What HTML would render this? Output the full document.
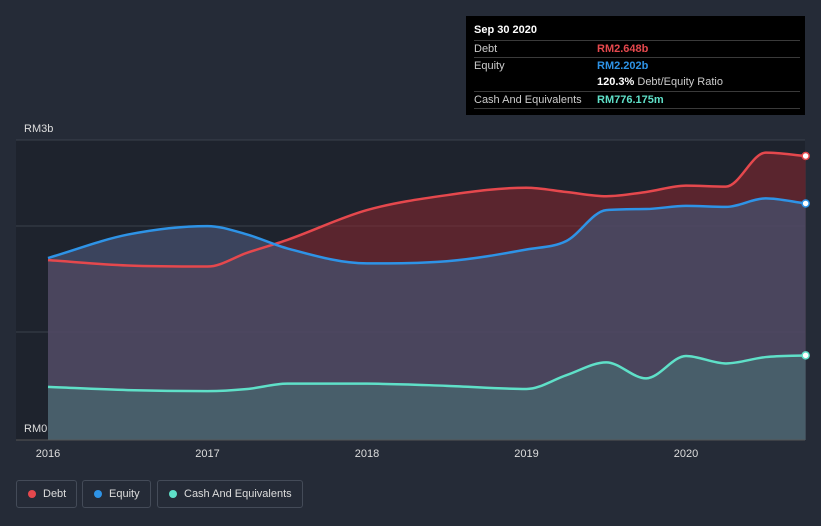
<!DOCTYPE html>
<html><head><meta charset="utf-8"><style>
body{margin:0;width:821px;height:526px;background:#252b37;font-family:"Liberation Sans",sans-serif;overflow:hidden;position:relative}
.tt{position:absolute;left:466px;top:16px;width:339px;height:99px;background:#000;color:#ccc;font-size:11px}
.row{position:absolute;left:8px;right:5px;height:17px;line-height:17px;border-top:1px solid #3a3a3a}
.row span.v{position:absolute;left:123px;font-weight:bold}
.legend{position:absolute;top:480px;height:26px;border:1px solid #444b58;border-radius:3px;color:#ddd;font-size:11px;line-height:26px;padding:0 10px 0 26px}
.legend i{position:absolute;left:11px;top:9px;width:8px;height:8px;border-radius:50%}
</style></head><body>
<svg id="chart" width="821" height="526" style="position:absolute;left:0;top:0"></svg>
<div class="tt">
<div style="position:absolute;left:8px;top:8px;color:#fff;font-weight:bold">Sep 30 2020</div>
<div class="row" style="top:24px"><span>Debt</span><span class="v" style="color:#e5484d">RM2.648b</span></div>
<div class="row" style="top:41px"><span>Equity</span><span class="v" style="color:#2e93e6">RM2.202b</span></div>
<div style="position:absolute;left:131px;top:58px;line-height:17px"><b style="color:#fff">120.3%</b> Debt/Equity Ratio</div>
<div class="row" style="top:75px"><span>Cash And Equivalents</span><span class="v" style="color:#5fe0c8">RM776.175m</span></div>
<div class="row" style="top:92px;height:0"></div>
</div>
<div class="legend" style="left:16px"><i style="background:#e5484d"></i>Debt</div>
<div class="legend" style="left:82px"><i style="background:#2e93e6"></i>Equity</div>
<div class="legend" style="left:157px"><i style="background:#5fe0c8"></i>Cash And Equivalents</div>
<script>
const dates=[2016,2016.5,2017,2017.25,2017.5,2018,2018.5,2019,2019.25,2019.5,2019.75,2020,2020.25,2020.5,2020.75];
const debt=[1.67,1.62,1.61,1.74,1.86,2.14,2.28,2.35,2.31,2.27,2.31,2.37,2.36,2.68,2.648];
const equity=[1.69,1.91,1.99,1.91,1.78,1.64,1.66,1.77,1.85,2.14,2.15,2.18,2.17,2.25,2.202];
const cash=[0.48,0.45,0.44,0.46,0.51,0.51,0.49,0.46,0.59,0.71,0.56,0.77,0.70,0.76,0.776];
const yearTicks=[2016,2017,2018,2019,2020];
const NS="http://www.w3.org/2000/svg",svg=document.getElementById('chart');
const X=d=>48+(d-2016)*159.5, Y=v=>438-v*106.5;
function el(t,a){const e=document.createElementNS(NS,t);for(const k in a)e.setAttribute(k,a[k]);svg.appendChild(e);return e;}
const bg=el('rect',{x:16,y:140,width:789,height:300,fill:'#1e232d'});


[140,226,332].forEach(y=>{const g=el('line',{x1:16,x2:805,y1:y,y2:y,stroke:'#3a404c'});

});
function path(vals){const p=vals.map((v,i)=>[X(dates[i]),Y(v)]);const n=p.length;
const s=[],m=[];for(let i=0;i<n-1;i++)s.push((p[i+1][1]-p[i][1])/(p[i+1][0]-p[i][0]));
m[0]=s[0];m[n-1]=s[n-2];for(let i=1;i<n-1;i++)m[i]=(s[i-1]*s[i]<=0)?0:(s[i-1]+s[i])/2;
for(let i=0;i<n-1;i++){if(s[i]===0){m[i]=m[i+1]=0;continue;}const a=m[i]/s[i],b=m[i+1]/s[i],h=a*a+b*b;if(h>9){const t=3/Math.sqrt(h);m[i]=t*a*s[i];m[i+1]=t*b*s[i];}}
let d='M'+p[0];for(let i=0;i<n-1;i++){const dx=(p[i+1][0]-p[i][0])/3;
d+=` C${p[i][0]+dx},${p[i][1]+m[i]*dx} ${p[i+1][0]-dx},${p[i+1][1]-m[i+1]*dx} ${p[i+1][0]},${p[i+1][1]}`;}return d;}
function area(vals){return path(vals)+` L${X(dates[dates.length-1])},440 L${X(dates[0])},440 Z`;}
function fill(vals,f,name){const a=el('path',{d:area(vals),fill:f});

}
function line(vals,stroke,name){
const l=el('path',{d:path(vals),fill:'none',stroke:stroke,'stroke-width':2.5});


const c=el('circle',{cx:X(dates[dates.length-1]),cy:Y(vals[vals.length-1]),r:3.5,fill:'#fff',stroke:stroke,'stroke-width':1.5});

}
fill(debt,'rgba(140,40,48,0.55)','debt');
fill(equity,'rgba(70,80,110,0.75)','equity');
fill(cash,'rgba(70,120,120,0.5)','cash');
line(debt,'#e5484d','debt');
line(equity,'#2e93e6','equity');
line(cash,'#5fe0c8','cash');
const ax=el('line',{x1:16,x2:805,y1:440,y2:440,stroke:'#555'});


yearTicks.forEach(t=>{const tx=el('text',{x:X(t),y:457,fill:'#ddd','font-size':11,'text-anchor':'middle'});tx.textContent=t;

});
[['RM3b',132],['RM0',432]].forEach(([s,y])=>{const tx=el('text',{x:24,y:y,fill:'#ddd','font-size':11});tx.textContent=s;

});
</script>
</body></html>
